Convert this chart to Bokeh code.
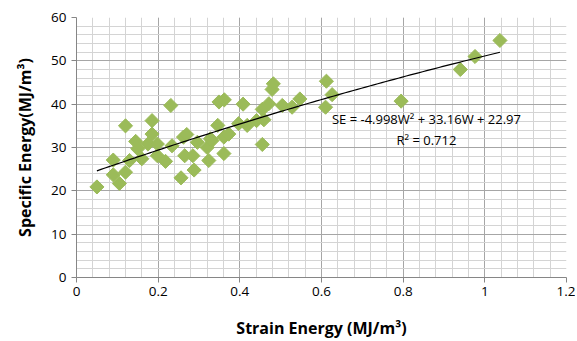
import numpy as np
from bokeh.plotting import figure
from bokeh.models import FixedTicker, NumeralTickFormatter, Range1d, Label
from bokeh.embed import file_html
from bokeh.resources import INLINE

strain_energy = [0.05, 0.09, 0.09, 0.105, 0.12, 0.12, 0.13, 0.145, 0.15, 0.16,
                 0.185, 0.185, 0.175, 0.198, 0.198, 0.218, 0.231, 0.234, 0.256, 0.265,
                 0.262, 0.27, 0.285, 0.288, 0.296, 0.32, 0.324, 0.332, 0.328, 0.346,
                 0.349, 0.362, 0.361, 0.361, 0.373, 0.397, 0.408, 0.418, 0.441, 0.455,
                 0.459, 0.455, 0.471, 0.479, 0.482, 0.504, 0.528, 0.547, 0.612, 0.626,
                 0.61, 0.795, 0.94, 0.976, 1.037]
specific_energy = [20.9, 27.1, 23.7, 21.7, 24.3, 35.0, 27.0, 31.4, 29.7, 27.4,
                   36.2, 33.1, 30.8, 30.8, 28.1, 26.8, 39.7, 30.4, 23.0, 28.1,
                   32.4, 33.0, 28.1, 24.8, 31.2, 30.0, 27.0, 31.6, 32.0, 35.1,
                   40.5, 41.0, 32.4, 28.6, 33.1, 35.5, 40.0, 35.1, 36.2, 38.8,
                   36.4, 30.7, 40.1, 43.4, 44.7, 39.7, 39.3, 41.2, 45.3, 42.2,
                   39.3, 40.7, 48.0, 51.0, 54.7]
trend_coef = [-4.998, 33.16, 22.97]
x_ticks = [0, 0.2, 0.4, 0.6, 0.8, 1.0, 1.2]
y_ticks = [0, 10, 20, 30, 40, 50, 60]

FONT = "Open Sans"

p = figure(width=575, height=341, output_backend="svg", toolbar_location=None,
           x_range=Range1d(0, 1.2), y_range=Range1d(0, 60),
           min_border_left=76, min_border_right=9, min_border_top=17, min_border_bottom=4)
p.outline_line_color = None
p.background_fill_color = "white"
p.border_fill_color = "white"

x_minor = [round(v, 2) for v in np.arange(0, 1.2001, 0.04)]
y_minor = [round(v, 1) for v in np.arange(0, 60.001, 2)]
p.xaxis.ticker = FixedTicker(ticks=x_ticks, minor_ticks=x_minor)
p.yaxis.ticker = FixedTicker(ticks=y_ticks, minor_ticks=y_minor)
p.xaxis.formatter = NumeralTickFormatter(format="0.[0]")

for ax in (p.xaxis, p.yaxis):
    ax.axis_line_color = "#868686"
    ax.major_tick_line_color = "#868686"
    ax.major_tick_out = 5
    ax.major_tick_in = 0
    ax.minor_tick_out = 0
    ax.minor_tick_in = 0
    ax.major_label_text_font = FONT
    ax.major_label_text_font_size = "13.5px"
    ax.major_label_text_color = "#000000"
    ax.axis_label_text_font = FONT
    ax.axis_label_text_font_style = "bold"
    ax.axis_label_text_font_size = "16px"
    ax.axis_label_text_color = "#000000"

p.xaxis.axis_label = "Strain Energy (MJ/m³)"
p.yaxis.axis_label = "Specific Energy(MJ/m³)"
p.xaxis.major_label_standoff = 4
p.xaxis.axis_label_standoff = 18
p.yaxis.major_label_standoff = 5
p.yaxis.axis_label_standoff = 12

for g in (p.xgrid, p.ygrid):
    g.grid_line_color = "#A6A6A6"
    g.grid_line_width = 1
    g.minor_grid_line_color = "#D4D4D4"
    g.minor_grid_line_width = 1

p.scatter(strain_energy, specific_energy, marker="square", angle=np.pi / 4,
          size=10, fill_color="#9BBB59", line_color="#9BBB59")

xs = np.linspace(min(strain_energy), max(strain_energy), 100)
ys = np.polyval(trend_coef, xs)
p.line(xs, ys, line_color="black", line_width=1.2)

p.add_layout(Label(x=0.857, y=36.5, text="SE = -4.998W² + 33.16W + 22.97",
                   text_align="center", text_baseline="middle",
                   text_font=FONT, text_font_size="13px", text_color="black"))
p.add_layout(Label(x=0.857, y=31.8, text="R² = 0.712",
                   text_align="center", text_baseline="middle",
                   text_font=FONT, text_font_size="13px", text_color="black"))

open("out.html", "w").write(file_html(p, INLINE))
